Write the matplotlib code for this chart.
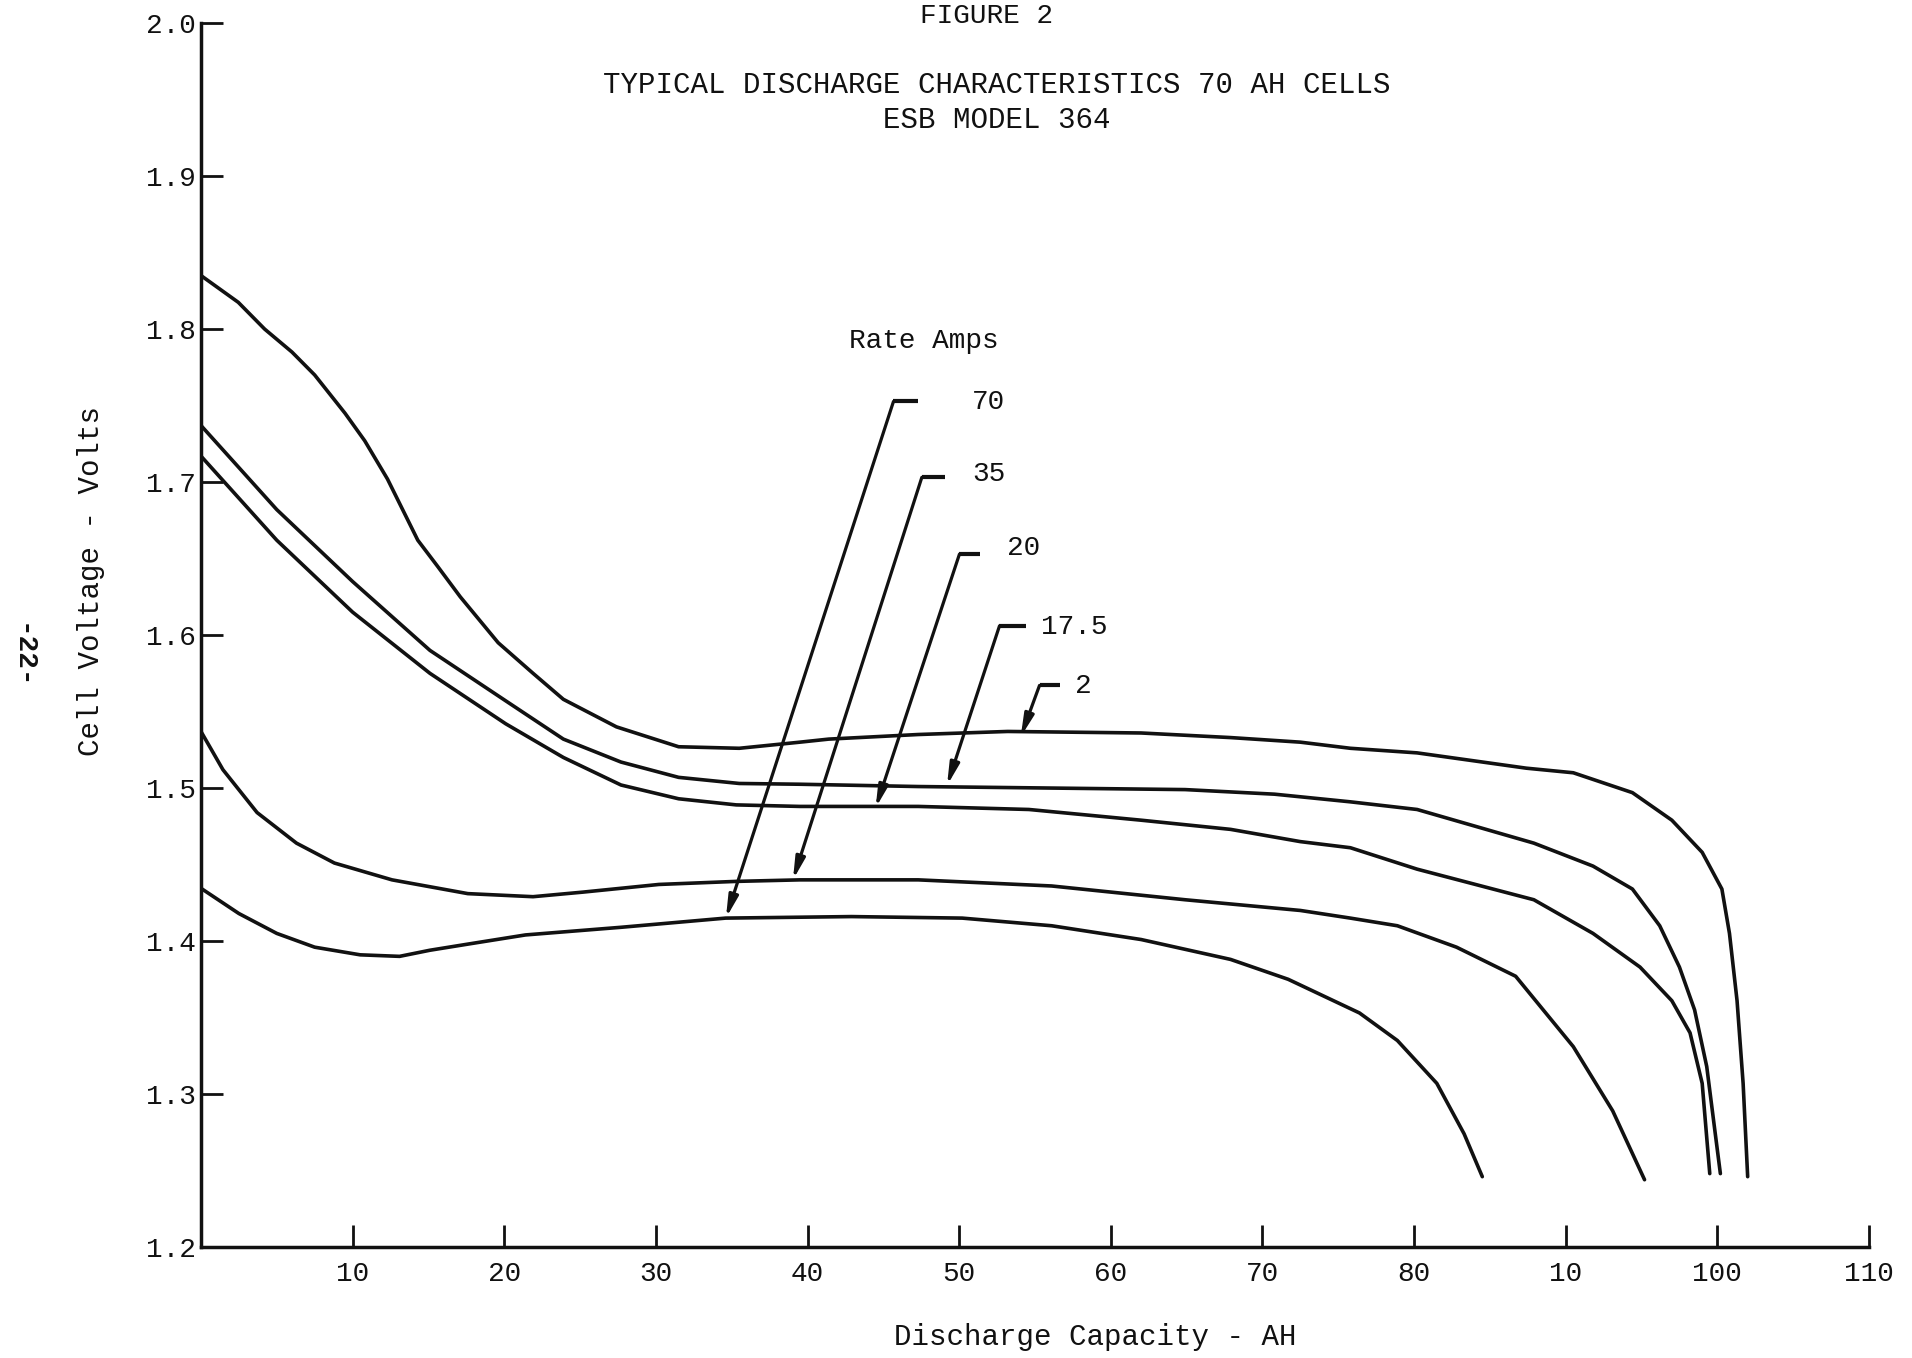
import matplotlib
matplotlib.use("Agg")
import matplotlib.pyplot as plt

FONT = ["Liberation Mono", "DejaVu Sans Mono"]
plt.rcParams["font.family"] = FONT

# ---- data (Discharge capacity AH, cell voltage V) ----
ah_2 = [0, 2.46, 4.2, 6.0, 7.5, 9.5, 10.8, 12.3, 13.3, 14.3, 15.6, 17.1, 19.6, 21.9, 23.9,
        27.4, 31.5, 35.5, 39.5, 41.4, 47.3, 53.2, 62.0, 67.9, 72.5, 75.8, 80.2, 87.4, 90.5,
        94.4, 97.0, 99.0, 100.3, 100.8, 101.3, 101.7, 102.0]
v_2 = [1.835, 1.8175, 1.800, 1.785, 1.770, 1.745, 1.727, 1.702, 1.682, 1.662, 1.645, 1.625,
       1.595, 1.575, 1.558, 1.540, 1.527, 1.526, 1.530, 1.532, 1.535, 1.537, 1.536, 1.533,
       1.530, 1.526, 1.523, 1.513, 1.510, 1.497, 1.479, 1.458, 1.434, 1.405, 1.361, 1.307,
       1.246]

ah_175 = [0, 5.0, 10.0, 15.1, 20.1, 23.9, 27.7, 31.5, 35.5, 39.5, 47.3, 56.1, 64.9, 70.8,
          75.8, 80.2, 87.9, 91.8, 94.4, 96.2, 97.5, 98.5, 99.3, 99.8, 100.2]
v_175 = [1.737, 1.682, 1.635, 1.590, 1.557, 1.532, 1.517, 1.507, 1.503, 1.5025, 1.501, 1.500,
         1.499, 1.496, 1.491, 1.486, 1.464, 1.449, 1.434, 1.410, 1.383, 1.355, 1.318, 1.279,
         1.248]

ah_20 = [0, 5.0, 10.0, 15.1, 20.1, 23.9, 27.7, 31.5, 35.3, 39.5, 47.3, 54.6, 62.0, 67.9,
         72.5, 75.8, 80.2, 87.9, 91.8, 94.9, 97.0, 98.2, 99.0, 99.5]
v_20 = [1.717, 1.662, 1.615, 1.575, 1.542, 1.520, 1.502, 1.493, 1.489, 1.488, 1.488, 1.486,
        1.479, 1.473, 1.465, 1.461, 1.447, 1.427, 1.405, 1.383, 1.361, 1.340, 1.307, 1.248]

ah_35 = [0, 1.45, 3.7, 6.3, 8.8, 12.6, 17.6, 21.9, 25.2, 30.2, 35.3, 39.5, 47.3, 56.1, 64.9,
         72.5, 75.8, 78.9, 82.8, 86.7, 90.5, 93.1, 95.2]
v_35 = [1.537, 1.512, 1.484, 1.464, 1.451, 1.440, 1.431, 1.429, 1.432, 1.437, 1.439, 1.440,
        1.440, 1.436, 1.427, 1.420, 1.415, 1.410, 1.396, 1.377, 1.331, 1.289, 1.244]

ah_70 = [0, 2.5, 5.0, 7.5, 10.5, 13.1, 15.1, 17.6, 21.4, 27.7, 34.6, 42.9, 50.2, 56.1, 62.0,
         67.9, 71.7, 76.4, 78.9, 81.5, 83.3, 84.5]
v_70 = [1.4345, 1.418, 1.405, 1.396, 1.391, 1.390, 1.394, 1.398, 1.404, 1.409, 1.415, 1.416,
        1.415, 1.410, 1.401, 1.388, 1.375, 1.353, 1.335, 1.307, 1.274, 1.246]

series = [(ah_2, v_2), (ah_175, v_175), (ah_20, v_20), (ah_35, v_35), (ah_70, v_70)]

x_ticks = [10, 20, 30, 40, 50, 60, 70, 80, 90, 100, 110]
x_tick_labels = ["10", "20", "30", "40", "50", "60", "70", "80", "10", "100", "110"]
y_ticks = [1.2, 1.3, 1.4, 1.5, 1.6, 1.7, 1.8, 1.9, 2.0]
y_tick_labels = ["1.2", "1.3", "1.4", "1.5", "1.6", "1.7", "1.8", "1.9", "2.0"]

rate_labels = ["70", "35", "20", "17.5", "2"]
# leader geometry: (stub end x, stub start x, stub y, tip x, tip y, label x, label y)
leaders = [
    (47.31, 45.67, 1.7527, 34.62, 1.415, 51.93, 1.7523),
    (49.08, 47.54, 1.7031, 39.04, 1.440, 51.93, 1.7053),
    (51.39, 50.02, 1.6529, 44.49, 1.487, 54.24, 1.6566),
    (54.42, 52.66, 1.6060, 49.20, 1.5016, 57.59, 1.6056),
    (56.62, 55.30, 1.5671, 54.06, 1.5335, 58.20, 1.5667),
]

INK = "#111111"
FS = 20

fig = plt.figure(figsize=(19.12, 13.58), dpi=100)
ax = fig.add_axes([0.1051, 0.0817, 0.8724, 0.9013])

for xs, vs in series:
    ax.plot(xs, vs, color=INK, lw=2.6, solid_capstyle="round", solid_joinstyle="round")

for (sx1, sx0, sy, tx, ty, lx, ly), lab in zip(leaders, rate_labels):
    ax.plot([sx1, sx0], [sy, sy], color=INK, lw=3.0, solid_capstyle="butt")
    ax.annotate("", xy=(tx, ty), xytext=(sx0, sy),
                arrowprops=dict(arrowstyle="-|>,head_length=1.3,head_width=0.28",
                                color=INK, lw=2.3, shrinkA=0, shrinkB=0))
    ax.text(lx, ly, lab, fontsize=FS, ha="center", va="center", color=INK)

ax.text(47.69, 1.792, "Rate Amps", fontsize=FS, ha="center", va="center", color=INK)

ax.set_xlim(0, 110)
ax.set_ylim(1.2, 2.0)
ax.set_xticks(x_ticks)
ax.set_xticklabels(x_tick_labels)
ax.set_yticks(y_ticks)
ax.set_yticklabels(y_tick_labels)
ax.tick_params(axis="both", direction="in", length=16, width=2, colors=INK, labelsize=FS)
ax.tick_params(axis="x", pad=10)
ax.tick_params(axis="y", pad=4)
for side in ("top", "right"):
    ax.spines[side].set_visible(False)
for side in ("left", "bottom"):
    ax.spines[side].set_linewidth(2.5)
    ax.spines[side].set_color(INK)

fig.text(0.516, 0.988, "FIGURE 2", fontsize=FS, ha="center", va="center", color=INK)
fig.text(0.5215, 0.9374, "TYPICAL DISCHARGE CHARACTERISTICS 70 AH CELLS", fontsize=21,
         ha="center", va="center", color=INK)
fig.text(0.5215, 0.9116, "ESB MODEL 364", fontsize=21, ha="center", va="center", color=INK)
fig.text(0.0476, 0.5722, "Cell Voltage - Volts", fontsize=21, rotation=90,
         ha="center", va="center", color=INK)
fig.text(0.0115, 0.517, "-22-", fontsize=FS, rotation=-90, ha="center", va="center",
         color=INK, fontweight="bold")
fig.text(0.5727, 0.0155, "Discharge Capacity - AH", fontsize=21, ha="center", va="center",
         color=INK)

fig.savefig("out.png", dpi=100, facecolor="white")
